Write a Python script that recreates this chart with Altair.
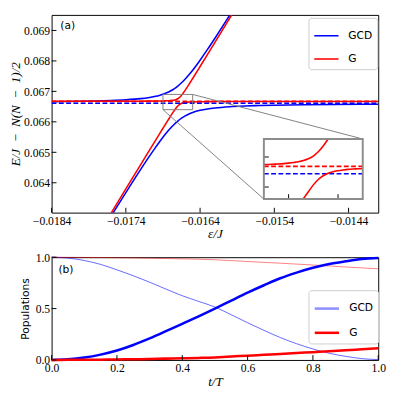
import altair as alt
import pandas as pd

# ================= panel (a): energy levels =================
series_names = ["GCD", "G"]
series_colors = ["#0000ff", "#ff0000"]

eps_red = [-0.0184, -0.0180, -0.0178, -0.0176, -0.0174, -0.0172, -0.0171, -0.0170,
           -0.01690, -0.01688, -0.01686, -0.01684, -0.01682, -0.01680, -0.01678,
           -0.01676, -0.01674, -0.01672, -0.01670, -0.01668, -0.01666, -0.01664,
           -0.01662, -0.01660, -0.01658, -0.01656, -0.01654, -0.01652, -0.01650,
           -0.0164, -0.0163, -0.0162, -0.0160, -0.0158, -0.0154, -0.0148, -0.0140]
red_upper = [0.066674, 0.066675, 0.066675, 0.066676, 0.066677, 0.066678, 0.066680, 0.066682,
             0.066687, 0.066688, 0.066690, 0.066692, 0.066695, 0.066699, 0.066704,
             0.066710, 0.066720, 0.066735, 0.066758, 0.066793, 0.066842, 0.066902,
             0.066969, 0.067040, 0.067114, 0.067190, 0.067266, 0.067344, 0.067422,
             0.067816, 0.068213, 0.068611, 0.069409, 0.070208, 0.071807, 0.074206, 0.077405]
red_lower = [0.059802, 0.061402, 0.062201, 0.063000, 0.063799, 0.064598, 0.064996, 0.065394,
             0.065789, 0.065868, 0.065946, 0.066024, 0.066101, 0.066177, 0.066253,
             0.066326, 0.066396, 0.066461, 0.066518, 0.066563, 0.066594, 0.066615,
             0.066628, 0.066636, 0.066642, 0.066647, 0.066650, 0.066652, 0.066654,
             0.066661, 0.066663, 0.066665, 0.066667, 0.066668, 0.066669, 0.066670, 0.066671]

eps_blue = [-0.0184, -0.0180, -0.0178, -0.0176, -0.0174, -0.0172, -0.0171, -0.0170,
            -0.01695, -0.0169, -0.01685, -0.0168, -0.01675, -0.0167, -0.01665, -0.0166,
            -0.01655, -0.0165, -0.0164, -0.0163, -0.0162, -0.0160, -0.0158, -0.0156,
            -0.0154, -0.0150, -0.0146, -0.0142, -0.0140]
blue_upper = [0.066658, 0.066673, 0.066683, 0.066699, 0.066723, 0.066762, 0.066793, 0.066838,
              0.066868, 0.066906, 0.066953, 0.067012, 0.067085, 0.067175, 0.067282, 0.067405,
              0.067544, 0.067694, 0.068024, 0.068377, 0.068745, 0.069504, 0.070280, 0.071064,
              0.071853, 0.073438, 0.075039, 0.076633, 0.077421]
blue_lower = [0.059742, 0.061328, 0.062117, 0.062901, 0.063678, 0.064438, 0.064807, 0.065162,
              0.065332, 0.065494, 0.065647, 0.065788, 0.065915, 0.066026, 0.066119, 0.066195,
              0.066257, 0.066306, 0.066377, 0.066423, 0.066455, 0.066496, 0.066520, 0.066536,
              0.066547, 0.066562, 0.066571, 0.066577, 0.066580]

level_eps = [-0.0184, -0.0140]
red_level = [0.066672, 0.066672]
blue_level = [0.06661, 0.06661]

x_domain_a = [-0.0184, -0.0140]
y_domain_a = [0.06302, 0.06951]
x_ticks_a = [-0.0184, -0.0174, -0.0164, -0.0154, -0.0144]
y_ticks_a = [0.064, 0.065, 0.066, 0.067, 0.068, 0.069]

# zoom window shown in the inset
inset_x = [-0.0169, -0.0165]
inset_y = [0.0664, 0.0669]
inset_x_ticks = [-0.0168, -0.0166]
inset_y_ticks = [0.0665, 0.06675]
inset_eps_upper = [-0.01690, -0.01688, -0.01686, -0.01684, -0.01682, -0.01680, -0.01678,
                   -0.01676, -0.01674, -0.01672, -0.01670, -0.01668, -0.01666, -0.01664]
inset_red_upper = [0.066687, 0.066688, 0.066690, 0.066692, 0.066695, 0.066699, 0.066704,
                   0.066710, 0.066720, 0.066735, 0.066758, 0.066793, 0.066842, 0.066900]
inset_eps_lower = [-0.016741, -0.01672, -0.01670, -0.01668, -0.01666, -0.01664, -0.01662,
                   -0.01660, -0.01658, -0.01656, -0.01654, -0.01652, -0.01650]
inset_red_lower = [0.066400, 0.066461, 0.066518, 0.066563, 0.066594, 0.066615, 0.066628,
                   0.066636, 0.066642, 0.066647, 0.066650, 0.066652, 0.066654]

# ================= panel (b): populations =================
t_vals = [0.0, 0.05, 0.1, 0.15, 0.2, 0.25, 0.3, 0.35, 0.4, 0.45, 0.5,
          0.55, 0.6, 0.65, 0.7, 0.75, 0.8, 0.85, 0.9, 0.95, 1.0]
gcd_thin = [1.0, 0.992, 0.968, 0.93, 0.877, 0.82, 0.757, 0.69, 0.625, 0.57, 0.515,
            0.44, 0.362, 0.288, 0.218, 0.158, 0.107, 0.065, 0.035, 0.013, 0.003]
gcd_thick = [0.0, 0.006, 0.023, 0.052, 0.092, 0.146, 0.21, 0.28, 0.352, 0.425, 0.5,
             0.578, 0.655, 0.727, 0.795, 0.85, 0.897, 0.934, 0.96, 0.982, 0.993]
g_thin = [1.0, 0.999, 0.998, 0.997, 0.995, 0.993, 0.99, 0.987, 0.984, 0.98, 0.975,
          0.967, 0.958, 0.95, 0.942, 0.933, 0.924, 0.915, 0.905, 0.896, 0.887]
g_thick = [0.0, 0.001, 0.002, 0.003, 0.005, 0.007, 0.01, 0.013, 0.016, 0.02, 0.025,
           0.033, 0.042, 0.05, 0.058, 0.067, 0.076, 0.085, 0.095, 0.104, 0.113]
x_ticks_b = [0.0, 0.2, 0.4, 0.6, 0.8, 1.0]
y_ticks_b = [0.0, 0.5, 1.0]
legend_colors_b = ["#8f8fff", "#ff0000"]

panel_labels = ["(a)", "(b)"]

# ================= layout / style =================
W = 337
HA = 204
HB = 106
INSET_PX_X = [219, 321]
INSET_PX_Y = [190, 128]
SERIF = "'Liberation Serif', 'Times New Roman', serif"
SANS = "'DejaVu Sans', sans-serif"
GRAY = "#808080"
TICK = 5


def make_axis(values, fmt, title, title_font, title_style, title_size, title_pad, label_pad=3):
    return alt.Axis(values=values, format=fmt, title=title, grid=False, domain=False,
                    ticks=False, tickSize=0, labelFont=SERIF, labelFontSize=12,
                    labelColor="black", labelPadding=label_pad, labelFlush=False,
                    labelOverlap=False, titleFont=title_font, titleFontStyle=title_style,
                    titleFontSize=title_size, titleFontWeight="normal", titleColor="black",
                    titlePadding=title_pad)


ax_xa = make_axis(x_ticks_a, ".4f", "ε/J", SERIF, "italic", 13.5, 1)
ax_ya = make_axis(y_ticks_a, ".3f", "E/J\u2002\u2212\u2002N(N\u2002\u2212\u20021)/2",
                  SERIF, "italic", 13.5, 1, label_pad=2)
sx_a = alt.Scale(domain=x_domain_a, nice=False, zero=False)
sy_a = alt.Scale(domain=y_domain_a, nice=False, zero=False)


def xa(field):
    return alt.X(field, scale=sx_a, axis=ax_xa)


def ya(field):
    return alt.Y(field, scale=sy_a, axis=ax_ya)


def line_a(eps, vals, color, dash=None):
    df = pd.DataFrame({"eps": eps, "E": vals})
    props = dict(color=color, strokeWidth=1.6, clip=True, interpolate="monotone")
    if dash is not None:
        props["strokeDash"] = dash
    return alt.Chart(df).mark_line(**props).encode(x=xa("eps:Q"), y=ya("E:Q"))


def legend_props(y, stroke_width):
    return alt.Legend(title=None, orient="none", legendX=W - 72, legendY=y,
                      direction="vertical", symbolType="stroke", symbolSize=625,
                      symbolStrokeWidth=stroke_width, labelFont=SANS, labelFontSize=11,
                      labelColor="black", labelOffset=9, padding=5, rowPadding=5,
                      strokeColor="#cccccc", fillColor="white", cornerRadius=3)


blue_up = line_a(eps_blue, blue_upper, series_colors[0])
blue_low = line_a(eps_blue, blue_lower, series_colors[0])
red_up = line_a(eps_red, red_upper, series_colors[1])
red_low = line_a(eps_red, red_lower, series_colors[1])
red_dash = line_a(level_eps, red_level, series_colors[1], dash=[5, 2.5])
blue_dash = line_a(level_eps, blue_level, series_colors[0], dash=[5, 2.5])

box = alt.Chart(pd.DataFrame({"x1": [inset_x[0]], "x2": [inset_x[1]],
                              "y1": [inset_y[0]], "y2": [inset_y[1]]})).mark_rect(
    fillOpacity=0, stroke=GRAY, strokeWidth=1).encode(
    x=xa("x1:Q"), x2="x2:Q", y=ya("y1:Q"), y2="y2:Q")

conn_tr = alt.Chart(pd.DataFrame({"x": [inset_x[1]], "y": [inset_y[1]]})).mark_rule(
    color=GRAY, strokeWidth=1).encode(
    x=xa("x:Q"), y=ya("y:Q"), x2=alt.value(INSET_PX_X[1]), y2=alt.value(INSET_PX_Y[1]))
conn_bl = alt.Chart(pd.DataFrame({"x": [inset_x[0]], "y": [inset_y[0]]})).mark_rule(
    color=GRAY, strokeWidth=1).encode(
    x=xa("x:Q"), y=ya("y:Q"), x2=alt.value(INSET_PX_X[0]), y2=alt.value(INSET_PX_Y[0]))

tick_xa = alt.Chart(pd.DataFrame({"eps": x_ticks_a})).mark_rule(color="black", strokeWidth=1).encode(
    x=xa("eps:Q"), y=alt.value(HA), y2=alt.value(HA - TICK))
tick_ya = alt.Chart(pd.DataFrame({"E": y_ticks_a})).mark_rule(color="black", strokeWidth=1).encode(
    y=ya("E:Q"), x=alt.value(0), x2=alt.value(TICK))

legend_a = alt.Chart(pd.DataFrame({"series": series_names, "eps": x_domain_a, "E": y_domain_a})
                     ).transform_filter("false").mark_line(strokeWidth=1.6).encode(
    x=xa("eps:Q"), y=ya("E:Q"),
    color=alt.Color("series:N", scale=alt.Scale(domain=series_names, range=series_colors),
                    legend=legend_props(3, 1.6)))

lab_a = alt.Chart(pd.DataFrame({"t": [panel_labels[0]]})).mark_text(
    align="left", baseline="middle", font=SANS, fontSize=11, color="black").encode(
    text="t:N", x=alt.value(9), y=alt.value(12))

main_a = alt.layer(blue_up, blue_low, red_up, red_low, red_dash, blue_dash, box,
                   conn_tr, conn_bl, tick_xa, tick_ya, legend_a, lab_a)

# ---- inset ----
sx_i = alt.Scale(domain=inset_x, range=INSET_PX_X, nice=False, zero=False)
sy_i = alt.Scale(domain=inset_y, range=INSET_PX_Y, nice=False, zero=False)
one = pd.DataFrame({"k": [0]})


def line_i(eps, vals, color, dash=None):
    df = pd.DataFrame({"eps": eps, "E": vals})
    props = dict(color=color, strokeWidth=1.6, interpolate="monotone")
    if dash is not None:
        props["strokeDash"] = dash
    return alt.Chart(df).mark_line(**props).encode(
        x=alt.X("eps:Q", scale=sx_i, axis=None), y=alt.Y("E:Q", scale=sy_i, axis=None))


inset_bg = alt.Chart(one).mark_rect(fill="white", strokeOpacity=0).encode(
    x=alt.value(INSET_PX_X[0]), x2=alt.value(INSET_PX_X[1]),
    y=alt.value(INSET_PX_Y[1]), y2=alt.value(INSET_PX_Y[0]))
i_red_dash = line_i(inset_x, red_level, series_colors[1], dash=[5, 2.5])
i_blue_dash = line_i(inset_x, blue_level, series_colors[0], dash=[5, 2.5])
i_red_up = line_i(inset_eps_upper, inset_red_upper, series_colors[1])
i_red_low = line_i(inset_eps_lower, inset_red_lower, series_colors[1])
i_tick_x = alt.Chart(pd.DataFrame({"eps": inset_x_ticks})).mark_rule(color="black", strokeWidth=1).encode(
    x=alt.X("eps:Q", scale=sx_i, axis=None),
    y=alt.value(INSET_PX_Y[0]), y2=alt.value(INSET_PX_Y[0] - TICK))
i_tick_y = alt.Chart(pd.DataFrame({"E": inset_y_ticks})).mark_rule(color="black", strokeWidth=1).encode(
    y=alt.Y("E:Q", scale=sy_i, axis=None),
    x=alt.value(INSET_PX_X[0]), x2=alt.value(INSET_PX_X[0] + TICK))
inset_frame = alt.Chart(one).mark_rect(fillOpacity=0, stroke="#8c8c8c", strokeWidth=2).encode(
    x=alt.value(INSET_PX_X[0]), x2=alt.value(INSET_PX_X[1]),
    y=alt.value(INSET_PX_Y[1]), y2=alt.value(INSET_PX_Y[0]))

inset_a = alt.layer(inset_bg, i_red_dash, i_blue_dash, i_red_up, i_red_low,
                    i_tick_x, i_tick_y, inset_frame)

panel_a = alt.layer(main_a, inset_a).resolve_scale(
    x="independent", y="independent").properties(width=W, height=HA)

# ---- panel (b) ----
ax_xb = make_axis(x_ticks_b, ".1f", "t/T", SERIF, "italic", 13.5, 1)
ax_yb = make_axis(y_ticks_b, ".1f", "Populations", SANS, "normal", 11, 5, label_pad=2)
sx_b = alt.Scale(domain=[0, 1], nice=False, zero=False)
sy_b = alt.Scale(domain=[0, 1], nice=False, zero=False)


def line_b(vals, color, width, opacity=1.0):
    df = pd.DataFrame({"t": t_vals, "p": vals})
    return alt.Chart(df).mark_line(color=color, strokeWidth=width, opacity=opacity,
                                   interpolate="monotone").encode(
        x=alt.X("t:Q", scale=sx_b, axis=ax_xb), y=alt.Y("p:Q", scale=sy_b, axis=ax_yb))


b_gcd_thin = line_b(gcd_thin, series_colors[0], 1.0, 0.6)
b_g_thin = line_b(g_thin, series_colors[1], 1.0, 0.5)
b_gcd_thick = line_b(gcd_thick, series_colors[0], 2.6)
b_g_thick = line_b(g_thick, series_colors[1], 2.6)

tick_xb = alt.Chart(pd.DataFrame({"t": x_ticks_b})).mark_rule(color="black", strokeWidth=1).encode(
    x=alt.X("t:Q", scale=sx_b, axis=ax_xb), y=alt.value(HB), y2=alt.value(HB - TICK))
tick_yb = alt.Chart(pd.DataFrame({"p": y_ticks_b})).mark_rule(color="black", strokeWidth=1).encode(
    y=alt.Y("p:Q", scale=sy_b, axis=ax_yb), x=alt.value(0), x2=alt.value(TICK))

legend_b = alt.Chart(pd.DataFrame({"series": series_names, "t": [0, 1], "p": [0, 1]})
                     ).transform_filter("false").mark_line(strokeWidth=2.6).encode(
    x=alt.X("t:Q", scale=sx_b, axis=ax_xb), y=alt.Y("p:Q", scale=sy_b, axis=ax_yb),
    color=alt.Color("series:N", scale=alt.Scale(domain=series_names, range=legend_colors_b),
                    legend=legend_props(34, 2.6)))

lab_b = alt.Chart(pd.DataFrame({"t": [panel_labels[1]]})).mark_text(
    align="left", baseline="middle", font=SANS, fontSize=11, color="black").encode(
    text="t:N", x=alt.value(7), y=alt.value(13))

panel_b = alt.layer(b_gcd_thin, b_g_thin, b_gcd_thick, b_g_thick, tick_xb, tick_yb,
                    legend_b, lab_b).properties(width=W, height=HB)

chart = alt.vconcat(panel_a, panel_b, spacing=10).resolve_scale(
    color="independent").resolve_legend(color="independent").properties(
    padding={"left": 0, "top": 0, "right": 0, "bottom": 0}
).configure_view(stroke="black", strokeWidth=1)

chart.save("out.html", embed_options={"renderer": "svg", "actions": False})
